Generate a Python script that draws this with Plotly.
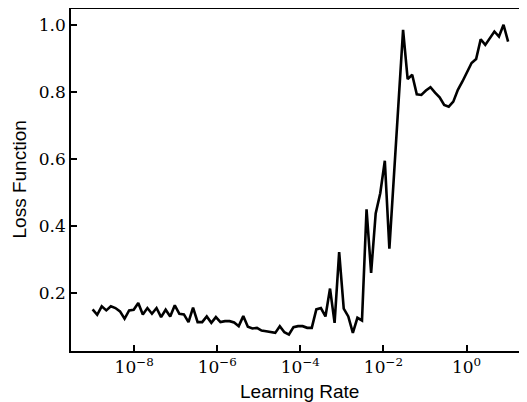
import numpy as np
import plotly.graph_objects as go

# Learning-rate sweep (log-spaced grid from 1e-9 to 1e1)
lr_exp_start = -9.0
lr_exp_end = 1.0
loss = [
    0.152, 0.136, 0.161, 0.149, 0.161, 0.156, 0.146, 0.124, 0.149, 0.151,
    0.171, 0.137, 0.156, 0.139, 0.156, 0.129, 0.151, 0.131, 0.164, 0.139,
    0.137, 0.114, 0.157, 0.114, 0.114, 0.131, 0.112, 0.129, 0.114, 0.117,
    0.117, 0.113, 0.102, 0.132, 0.100, 0.095, 0.097, 0.089, 0.087, 0.084,
    0.082, 0.102, 0.084, 0.077, 0.099, 0.102, 0.102, 0.097, 0.097, 0.152,
    0.156, 0.131, 0.214, 0.112, 0.323, 0.154, 0.131, 0.082, 0.127, 0.119,
    0.450, 0.261, 0.438, 0.498, 0.595, 0.333, 0.550, 0.770, 0.985, 0.838,
    0.851, 0.793, 0.791, 0.804, 0.814, 0.798, 0.784, 0.761, 0.756, 0.771,
    0.806, 0.831, 0.861, 0.886, 0.898, 0.957, 0.940, 0.960, 0.980, 0.965,
    1.000, 0.950,
]
lr = np.logspace(lr_exp_start, lr_exp_end, len(loss))

x_title = "Learning Rate"
y_title = "Loss Function"
x_tickvals = [1e-8, 1e-6, 1e-4, 1e-2, 1e0]
x_ticktext = ["10<sup>−8</sup>", "10<sup>−6</sup>", "10<sup>−4</sup>",
              "10<sup>−2</sup>", "10<sup>0</sup>"]
y_ticks = [0.2, 0.4, 0.6, 0.8, 1.0]
y_ticktext = ["0.2", "0.4", "0.6", "0.8", "1.0"]

fig = go.Figure()
fig.add_trace(go.Scatter(x=lr, y=loss, mode="lines",
                         line=dict(color="black", width=2.6),
                         showlegend=False))

tickfont = dict(family="DejaVu Serif", size=17, color="black")
titlefont = dict(family="Liberation Sans", size=19, color="black")

# page has an 8px body margin, so the figure is sized to end at the window edge
fig.update_layout(
    width=519, height=394,
    margin=dict(l=63, r=0, t=1, b=51, autoexpand=False),
    paper_bgcolor="white", plot_bgcolor="white",
    xaxis=dict(
        type="log", range=[-9.52, 1.455],
        tickvals=x_tickvals, ticktext=x_ticktext,
        ticks="inside", ticklen=6, tickwidth=1.5, tickcolor="black",
        showline=True, linecolor="black", linewidth=1.7, mirror=True,
        showgrid=False, zeroline=False, automargin=False,
        tickfont=tickfont,
    ),
    yaxis=dict(
        range=[0.028, 1.047],
        tickvals=y_ticks, ticktext=y_ticktext,
        ticks="inside", ticklen=6, tickwidth=1.5, tickcolor="black",
        showline=True, linecolor="black", linewidth=1.7, mirror="ticks",
        showgrid=False, zeroline=False, automargin=False,
        tickfont=tickfont,
    ),
    annotations=[
        dict(text=x_title, xref="paper", yref="paper", x=0.5, y=0,
             yshift=-28, xanchor="center", yanchor="top",
             showarrow=False, font=titlefont),
        dict(text=y_title, xref="paper", yref="paper", x=0, y=0.5,
             xshift=-40, xanchor="right", yanchor="middle", textangle=-90,
             showarrow=False, font=titlefont),
    ],
)

fig.write_html("out.html")
